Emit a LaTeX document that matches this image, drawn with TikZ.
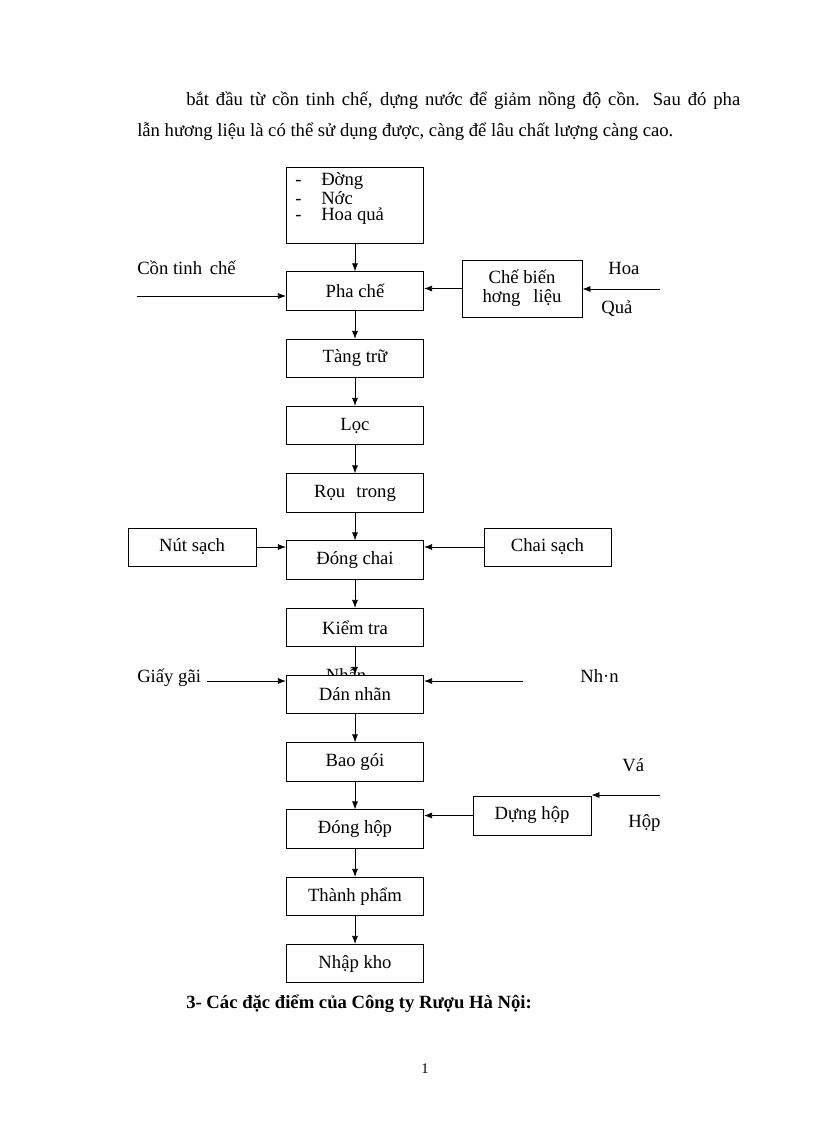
\documentclass[tikz,border=0pt]{standalone}
\usepackage{fontspec}
\setmainfont{Liberation Serif}
\usetikzlibrary{arrows.meta,calc}
\begin{document}
\begin{tikzpicture}[x=0.75pt,y=-0.75pt,
  every node/.style={font=\fontsize{14pt}{14.5pt}\selectfont},
  mbox/.style={draw, line width=0.6pt, fill=white, inner sep=0pt, minimum width=103pt, minimum height=28.8pt},
  sbox/.style={draw, line width=0.6pt, fill=white, inner sep=0pt, align=center},
  arr/.style={line width=0.6pt, -{Latex[length=6pt,width=4.5pt]}},
  lbl/.style={inner sep=0pt, anchor=base west}]
\useasboundingbox (0,0) rectangle (816,1123);
% paragraph
\node[lbl] (p1) at (186,106) {\makebox[415.5pt][s]{bắt đầu từ cồn tinh chế, dựng nước để giảm nồng độ cồn. Sau đó pha}};
\node[lbl] (p2) at (137,137) {lẫn hương liệu là có thể sử dụng được, càng để lâu chất lượng càng cao.};
% hidden label behind Dán nhãn
\node[inner sep=0pt, anchor=base] (nhan2) at (346,681) {Nhẫn};
% main column
\node[mbox, minimum height=57pt] (top) at (355,205) {};
\node[inner sep=0pt, anchor=base west, align=left, font=\fontsize{14pt}{12.6pt}\selectfont] (list) at (295,221)
  {\makebox[19.5pt][l]{-}Đờng\\\makebox[19.5pt][l]{-}Nớc\\\makebox[19.5pt][l]{-}Hoa quả};
\node[mbox] (pc) at (355,291) {Pha chế};
\node[mbox] (tt) at (355,358.5) {Tàng trữ};
\node[mbox] (loc) at (355,425.5) {Lọc};
\node[mbox] (rt) at (355,493) {Rọu\hspace{0.6em}trong};
\node[mbox] (dc) at (355,560) {Đóng chai};
\node[mbox] (kt) at (355,627.5) {Kiểm tra};
\node[mbox] (dn) at (355,694.5) {Dán nhãn};
\node[mbox] (bg) at (355,762) {Bao gói};
\node[mbox] (dh) at (355,829) {Đóng hộp};
\node[mbox] (tp) at (355,896.5) {Thành phẩm};
\node[mbox] (nk) at (355,963.5) {Nhập kho};
% side boxes
\node[sbox, minimum width=90pt, minimum height=42.75pt] (cb) at (522,288.5) {Chế biến\\hơng\hspace{0.7em}liệu};
\node[sbox, minimum width=96pt, minimum height=28.5pt] (ns) at (192,547) {Nút sạch};
\node[sbox, minimum width=95.25pt, minimum height=28.5pt] (cs) at (547.5,547) {Chai sạch};
\node[sbox, minimum width=88.5pt, minimum height=29.25pt] (dung) at (532,815.5) {Dựng hộp};
% vertical arrows
\foreach \a/\b in {top/pc,pc/tt,tt/loc,loc/rt,rt/dc,dc/kt,kt/dn,dn/bg,bg/dh,dh/tp,tp/nk}
  \draw[arr] (\a.south) -- (\b.north);
% side labels
\node[lbl] (lcon) at (137,274) {Cồn tinh\, chế};
\node[lbl] (lhoa) at (608,274) {Hoa};
\node[lbl] (lqua) at (601,313) {Quả};
\node[lbl] (lgiay) at (137,682) {Giấy gãi};
\node[lbl] (lnh) at (580,682) {Nh·n};
\node[lbl] (lva) at (622,771) {Vá};
\node[lbl] (lhop) at (628,827) {Hộp};
% side arrows
\coordinate (cin) at (137,296);
\coordinate (hoa) at (660,289);
\coordinate (giay) at (207,681);
\coordinate (nhan) at (523,681);
\coordinate (va) at (660,795);
\draw[arr] (cin) -- (cin -| pc.west);
\draw[arr] (cb.west) -- (cb.west -| pc.east);
\draw[arr] (hoa) -- (hoa -| cb.east);
\draw[arr] (ns.east) -- (ns.east -| dc.west);
\draw[arr] (cs.west) -- (cs.west -| dc.east);
\draw[arr] (giay) -- (giay -| dn.west);
\draw[arr] (nhan) -- (nhan -| dn.east);
\draw[arr] (dung.west) -- (dung.west -| dh.east);
\draw[arr] (va) -- (va -| dung.east);
% heading and page number
\node[lbl] (head) at (186,1008) {\bfseries 3- Các đặc điểm của Công ty Rượu Hà Nội:};
\node[inner sep=0pt, anchor=base] (pg) at (425,1073) {\fontsize{11pt}{12pt}\selectfont 1};
\end{tikzpicture}
\end{document}
